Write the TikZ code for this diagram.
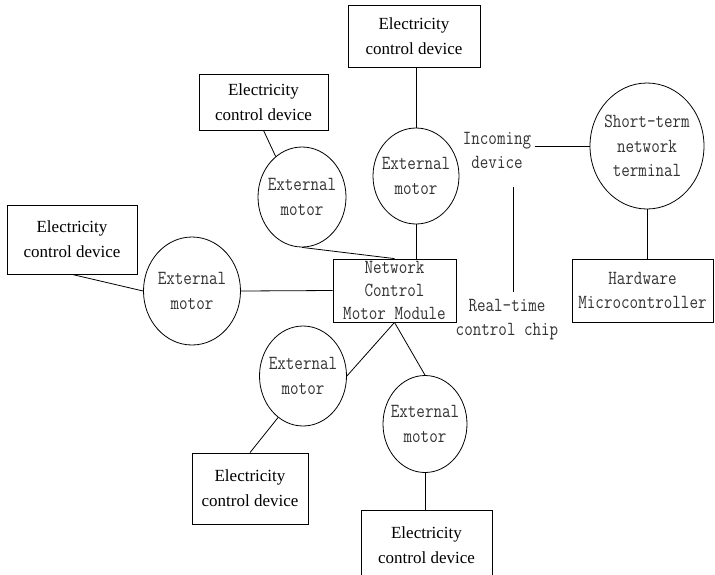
\documentclass[tikz,border=0pt]{standalone}
\usepackage{fontspec}
\setmainfont{Liberation Serif}
\newfontfamily\cnmono[FakeStretch=0.83]{Latin Modern Mono}
\usetikzlibrary{shapes.geometric}
\tikzset{
  ecdbox/.style={draw, rectangle, inner sep=0pt, align=center, font=\fontsize{17}{25}\selectfont},
  motor/.style={draw, ellipse, inner sep=0pt},
  mtext/.style={align=center, inner sep=0pt, text=black!80, font=\fontsize{20}{24.5}\cnmono},
  link/.style={line width=0.8pt}
}
\begin{document}
\begin{tikzpicture}[x=1pt, y=-1pt, line width=0.8pt]
          \useasboundingbox (0,0) rectangle (715,574);
          \node[ecdbox, minimum width=132pt, minimum height=62pt] (ecd1) at (414,36){Electricity\\control device};
          \node[ecdbox, minimum width=129pt, minimum height=56pt] (ecd2) at (263.5,102){Electricity\\control device};
          \node[ecdbox, minimum width=130pt, minimum height=69pt] (ecd3) at (72,239.5){Electricity\\control device};
          \node[ecdbox, minimum width=116pt, minimum height=71pt] (ecd4) at (250,488.5){Electricity\\control device};
          \node[ecdbox, minimum width=131pt, minimum height=70pt] (ecd5) at (426.5,545){Electricity\\control device};
          \node[motor, minimum width=88pt, minimum height=100pt, label={[mtext]center:External\\motor}] (mot1) at (302,197){};
          \node[motor, minimum width=86pt, minimum height=96pt, label={[mtext]center:External\\motor}] (mot2) at (416,176){};
          \node[motor, minimum width=97pt, minimum height=108pt, label={[mtext]center:External\\motor}] (mot3) at (192,291){};
          \node[motor, minimum width=87pt, minimum height=100pt, label={[mtext]center:External\\motor}] (mot4) at (303,376){};
          \node[motor, minimum width=84pt, minimum height=97pt, label={[mtext]center:External\\motor}] (mot5) at (425,424){};
          \node[draw, rectangle, minimum width=123pt, minimum height=63pt, label={[mtext, font=\fontsize{20}{23}\cnmono]center:Network\\Control\\Motor Module}] (ntm) at (394.5,290.5){};
          \node[motor, minimum width=114pt, minimum height=126pt, label={[mtext]center:Short-term\\network\\terminal}] (ntc) at (647,146){};
          \node[draw, rectangle, minimum width=141pt, minimum height=63pt, mtext, inner sep=0pt, font=\fontsize{20}{24}\cnmono] (hmc) at (642.5,290.5){Hardware\\Microcontroller};
          \node[mtext, font=\fontsize{20}{24}\cnmono] (inc) at (497,150){Incoming\\device};
          \node[mtext, font=\fontsize{20}{24}\cnmono] (rtc) at (507,320){Real-time\\control chip};
          \coordinate (v1) at (513,187);
          \coordinate (v2) at (513,292);
          \draw[link](mot2.north |- ecd1.south) -- (mot2.north);
          \draw[link](mot2.south) -- (mot2.south |- ntm.north);
          \draw[link](ecd2.south) -- (mot1.123);
          \draw[link](mot1.south) -- (ntm.north);
          \draw[link](ecd3.south) -- (mot3.west);
          \draw[link](mot3.east) -- (ntm.west);
          \draw[link](ntm.south) -- (mot4.east);
          \draw[link](ntm.south) -- (mot5.north);
          \draw[link](mot4.239) -- (ecd4.north);
          \draw[link](mot5.south) -- (mot5.south |- ecd5.north);
          \draw[link]([xshift=3pt]inc.east |- ntc.west) -- (ntc.west);
          \draw[link](v1) -- (v2);
          \draw[link](ntc.south) -- (ntc.south |- hmc.north);
        \end{tikzpicture}
\end{document}
